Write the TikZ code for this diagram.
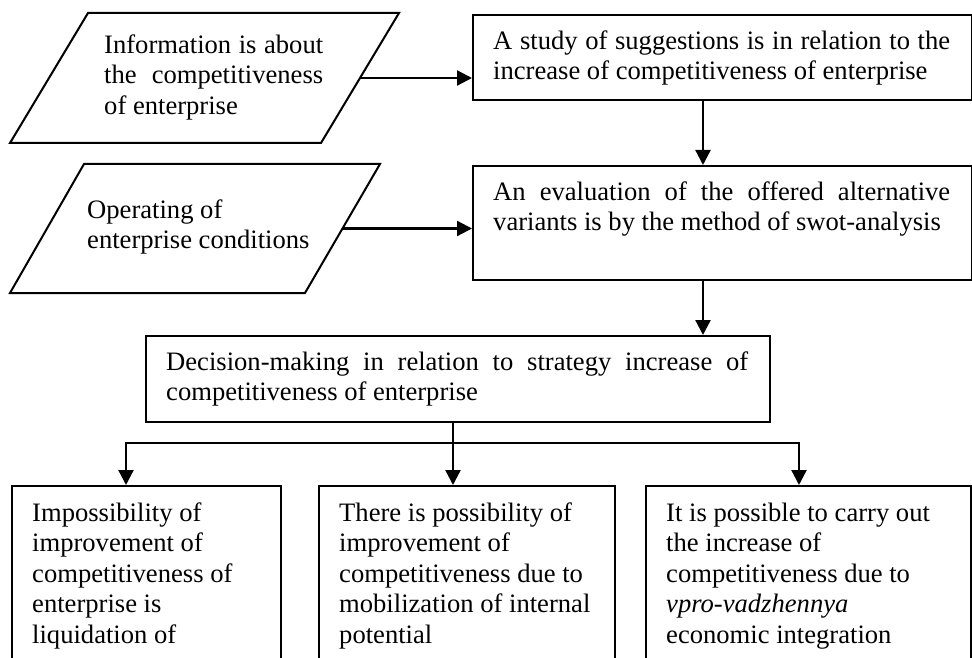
\documentclass[tikz,border=0pt]{standalone}
\usepackage{fontspec}
\setmainfont{Liberation Serif}
\usetikzlibrary{arrows.meta}

% full-width justified line of a given width
\newcommand\jline[2]{\makebox[#1][s]{#2}}

\tikzset{
  box/.style={draw, line width=2pt, inner sep=0pt, anchor=north west},
  shapeline/.style={draw, line width=2pt, line join=miter},
  txt/.style={anchor=north west, inner sep=0pt, align=left,
              font=\fontsize{26.6}{30.5}\selectfont},
  arr/.style={line width=2.3pt, line join=miter,
              -{Triangle[length=15pt,width=15pt]}},
}

\begin{document}
\begin{tikzpicture}[x=1pt, y=-1pt]
  \useasboundingbox (0,0) rectangle (972,658);
  \clip (0,0) rectangle (972,658);

  % input parallelograms
  \draw[shapeline] (88,13) -- (399,13) -- (321,143) -- (10,143) -- cycle;
  \coordinate (p1out) at (360,78);
  \node[txt] (p1) at (104,31.65)
    {\strut\jline{219pt}{Information is about}\\
     \jline{219pt}{the \ competitiveness}\\
     of enterprise};

  \draw[shapeline] (84,164) -- (380,164) -- (305,293) -- (10,293) -- cycle;
  \coordinate (p2out) at (342.5,228.5);
  \node[txt] (p2) at (87,196.65)
    {\strut Operating of\\ enterprise conditions};

  % process boxes
  \node[box, minimum width=499pt, minimum height=85pt] (b1) at (472,14) {};
  \node[txt] (t1) at (493,27.65)
    {\strut\jline{457pt}{A study of suggestions is in relation to the}\\
     increase of competitiveness of enterprise};

  \node[box, minimum width=499pt, minimum height=114pt] (b2) at (472,165) {};
  \node[txt] (t2) at (493,178.65)
    {\strut\jline{457pt}{An evaluation of the offered alternative}\\
     variants is by the method of swot-analysis};

  \node[box, minimum width=624pt, minimum height=86pt] (b3) at (145,335) {};
  \node[txt] (t3) at (166,348.65)
    {\strut\jline{582pt}{Decision-making in relation to strategy increase of}\\
     competitiveness of enterprise};

  % outcome boxes (continue below the lower edge)
  \node[box, minimum width=269pt, minimum height=230pt] (bL) at (11,485) {};
  \node[txt] (tL) at (32,499.65)
    {\strut Impossibility of\\ improvement of\\ competitiveness of\\
     enterprise is\\ liquidation of};

  \node[box, minimum width=296pt, minimum height=230pt] (bM) at (318,485) {};
  \node[txt] (tM) at (339,499.65)
    {\strut There is possibility of\\ improvement of\\
     competitiveness due to\\ mobilization of internal\\ potential};

  \node[box, minimum width=325pt, minimum height=230pt] (bR) at (645,485) {};
  \node[txt] (tR) at (666,499.65)
    {\strut It is possible to carry out\\ the increase of\\
     competitiveness due to\\ \textit{vpro-vadzhennya}\\ economic integration};

  % connectors
  \draw[arr] (p1out) -- (p1out -| b1.west);
  \draw[arr] (p2out) -- (p2out -| b2.west);

  \coordinate (colA) at (703,0);
  \draw[arr] (b1.south -| colA) -- (b2.north -| colA);
  \draw[arr] (b2.south -| colA) -- (b3.north -| colA);

  \coordinate (colB) at (453,0);
  \draw[arr] (b3.south -| colB) -- (bM.north -| colB);

  \coordinate (splitL) at (126,443);
  \coordinate (splitR) at (799,443);
  \draw[arr] (splitR) -- (splitL) -- (splitL |- bL.north);
  \draw[arr] (splitL) -- (splitR) -- (splitR |- bR.north);
\end{tikzpicture}
\end{document}
